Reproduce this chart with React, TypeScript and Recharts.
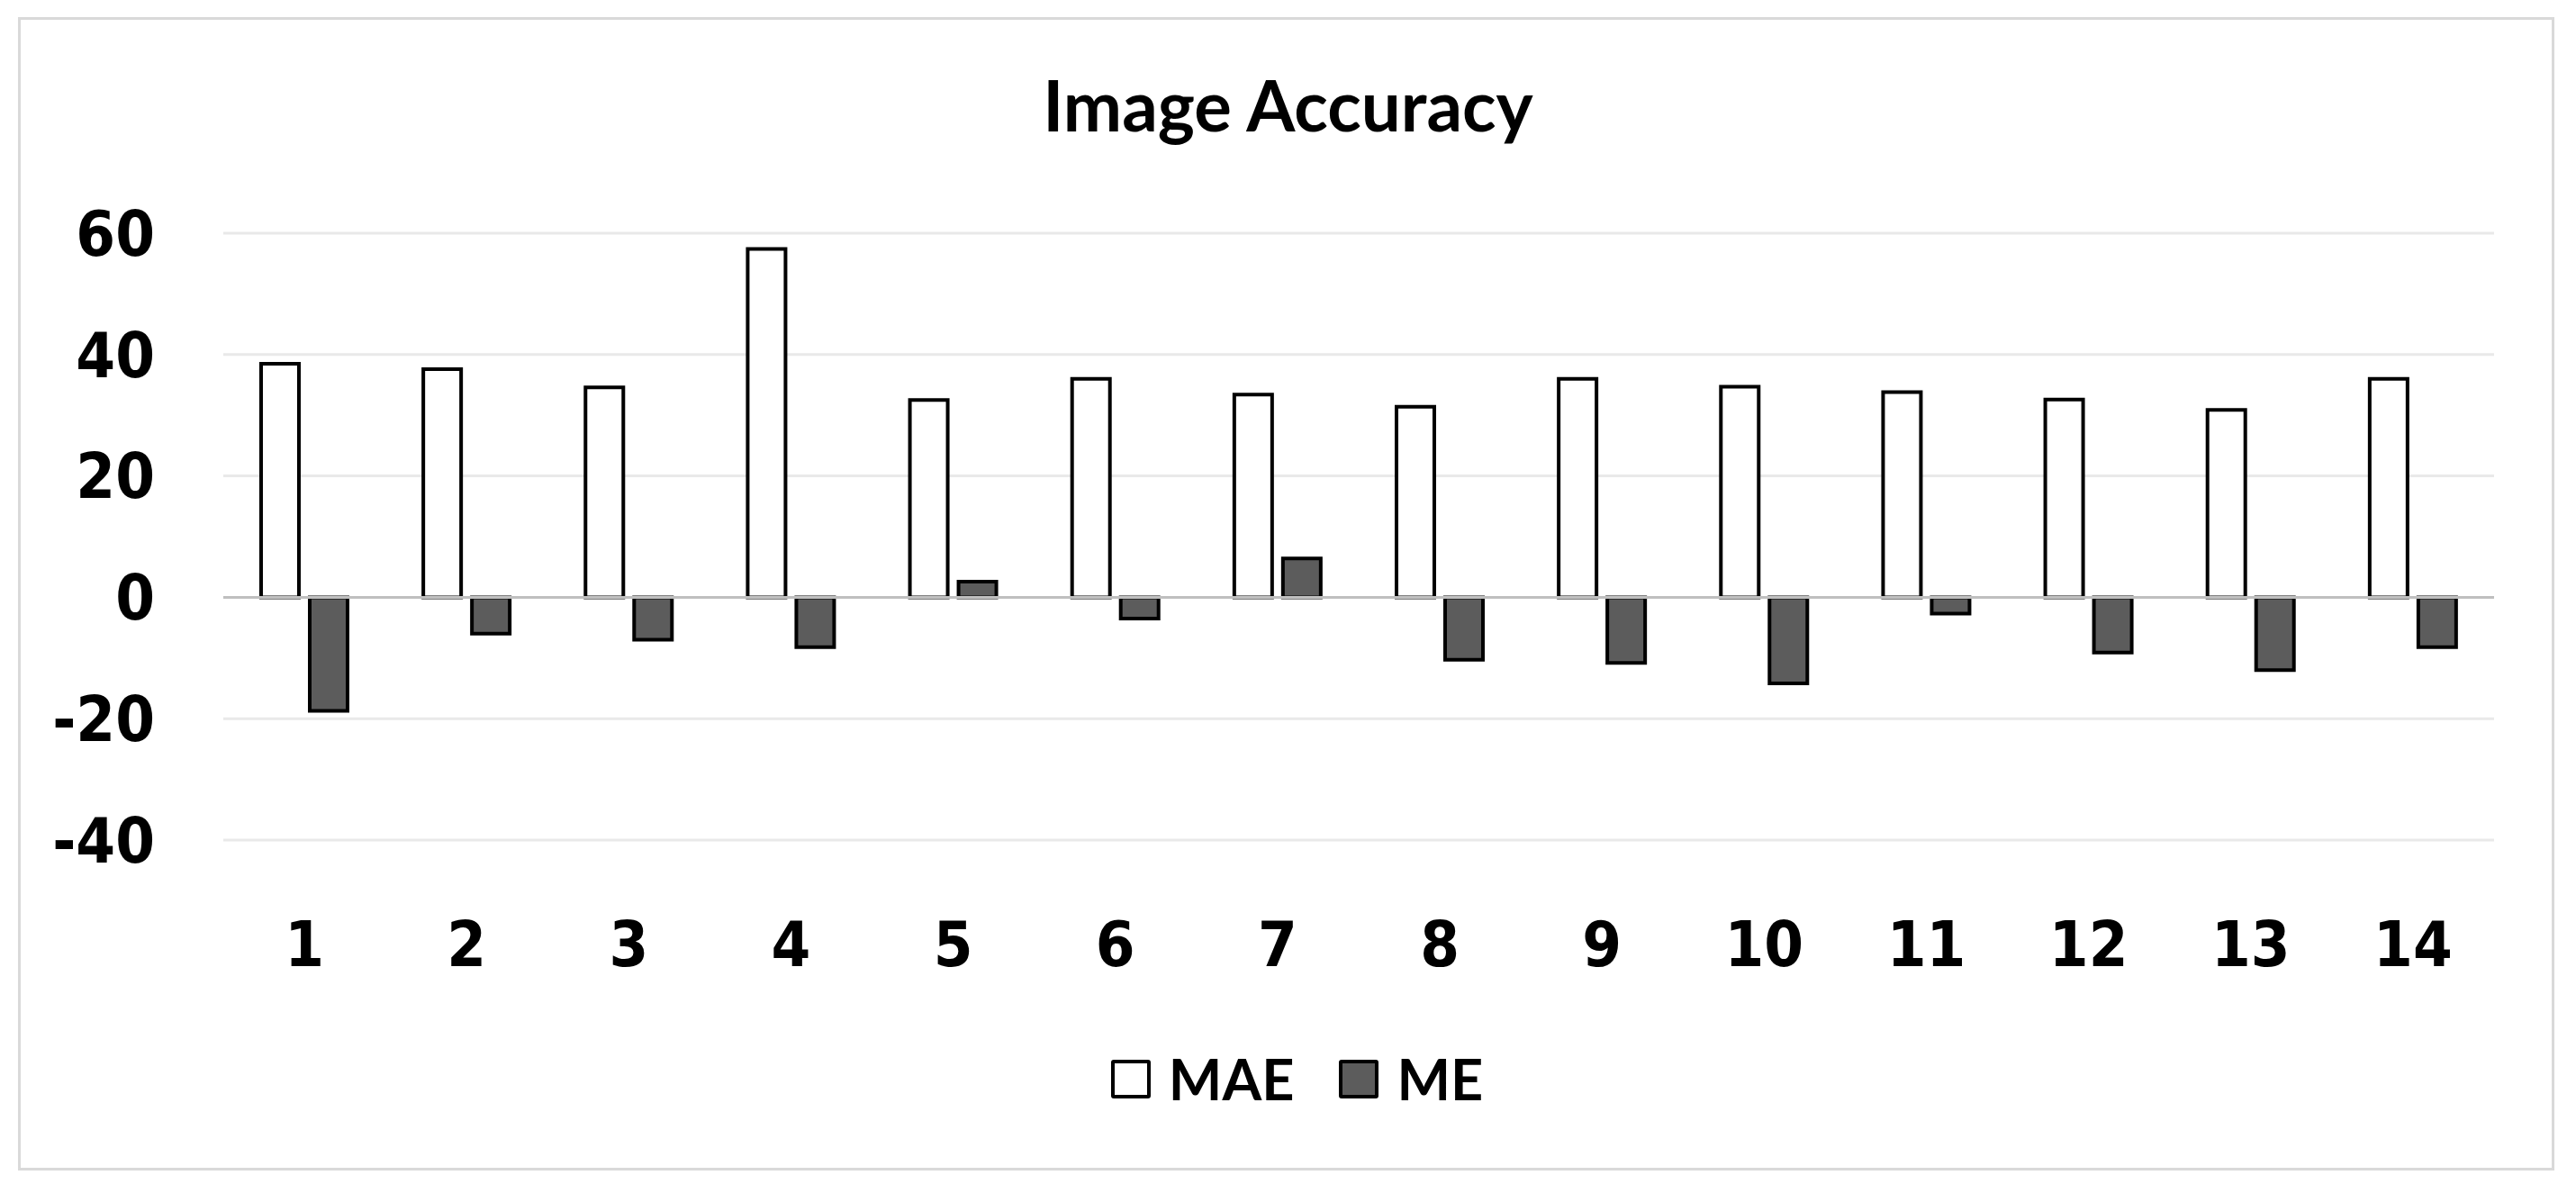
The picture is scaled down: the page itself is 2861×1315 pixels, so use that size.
import React from "react";
import {
  BarChart,
  Bar,
  XAxis,
  YAxis,
  CartesianGrid,
  Legend,
  ReferenceLine,
} from "recharts";

const categories = ["1", "2", "3", "4", "5", "6", "7", "8", "9", "10", "11", "12", "13", "14"];
const maeValues = [38.5, 37.6, 34.6, 57.4, 32.5, 36.0, 33.4, 31.4, 36.0, 34.7, 33.8, 32.6, 30.9, 36.0];
const meValues = [-18.7, -6.0, -7.0, -8.2, 2.6, -3.5, 6.4, -10.3, -10.8, -14.2, -2.7, -9.1, -12.0, -8.2];
const yTicks = [-40, -20, 0, 20, 40, 60];

const seriesInfo = [
  { key: "MAE", fill: "#ffffff" },
  { key: "ME", fill: "#5c5c5c" },
];

const data = categories.map((name, i) => ({
  name,
  MAE: maeValues[i],
  ME: meValues[i],
}));

const W = 2861;
const H = 1315;
const tickFont = "'DejaVu Sans Condensed', 'DejaVu Sans', sans-serif";
const labelFont = "Lato, 'Open Sans', sans-serif";

function LegendBox() {
  return (
    <div
      style={{
        display: "flex",
        justifyContent: "center",
        alignItems: "center",
        fontFamily: labelFont,
        fontWeight: 700,
        fontSize: 63,
        lineHeight: "64px",
        color: "#000",
        paddingLeft: 20,
      }}
    >
      {seriesInfo.map((s, i) => (
        <div
          key={s.key}
          style={{ display: "flex", alignItems: "center", marginLeft: i === 0 ? 0 : 50 }}
        >
          <span
            style={{
              display: "inline-block",
              width: 36,
              height: 35,
              background: s.fill,
              border: "4px solid #000",
              borderRadius: 3,
              marginRight: 20,
            }}
          />
          <span>{s.key}</span>
        </div>
      ))}
    </div>
  );
}

export default function App() {
  return (
    <div
      style={{
        position: "absolute",
        left: 0,
        top: 0,
        width: W,
        height: H,
        background: "#fff",
        overflow: "hidden",
      }}
    >
      {/* chart frame */}
      <div
        style={{
          position: "absolute",
          left: 20,
          top: 19,
          width: 2817,
          height: 1281,
          border: "3px solid #d9d9d9",
          boxSizing: "border-box",
        }}
      />
      <div
        style={{
          position: "absolute",
          left: 0,
          top: 77,
          width: W,
          textAlign: "center",
          fontFamily: labelFont,
          fontWeight: 700,
          fontSize: 78,
          lineHeight: "78px",
          color: "#000",
          zIndex: 2,
        }}
      >
        Image Accuracy
      </div>
      <div style={{ position: "absolute", left: 0, top: 0 }}>
        <BarChart
          width={W}
          height={H}
          data={data}
          margin={{ top: 259, right: 91, bottom: 0, left: 0 }}
          barGap={12}
        >
          <CartesianGrid vertical={false} stroke="#e9e9e9" strokeWidth={3} />
          <XAxis
            dataKey="name"
            height={382}
            axisLine={false}
            tickLine={false}
            tickSize={0}
            tickMargin={90}
            interval={0}
            tick={{ fill: "#000", fontSize: 70, fontWeight: 700, fontFamily: tickFont }}
          />
          <YAxis
            width={248}
            domain={[-40, 60]}
            ticks={yTicks}
            axisLine={false}
            tickLine={false}
            tickSize={0}
            tickMargin={76}
            tick={{ fill: "#000", fontSize: 70, fontWeight: 700, fontFamily: tickFont }}
          />
          <ReferenceLine y={0} stroke="#bfbfbf" strokeWidth={3} />
          <Legend
            layout="horizontal"
            verticalAlign="middle"
            align="center"
            wrapperStyle={{ position: "absolute", top: 1166, left: 0, width: W }}
            content={() => <LegendBox />}
          />
          {seriesInfo.map((s) => (
            <Bar
              key={s.key}
              dataKey={s.key}
              fill={s.fill}
              stroke="#000"
              strokeWidth={4}
              barSize={42}
              isAnimationActive={false}
            />
          ))}
        </BarChart>
      </div>
    </div>
  );
}
